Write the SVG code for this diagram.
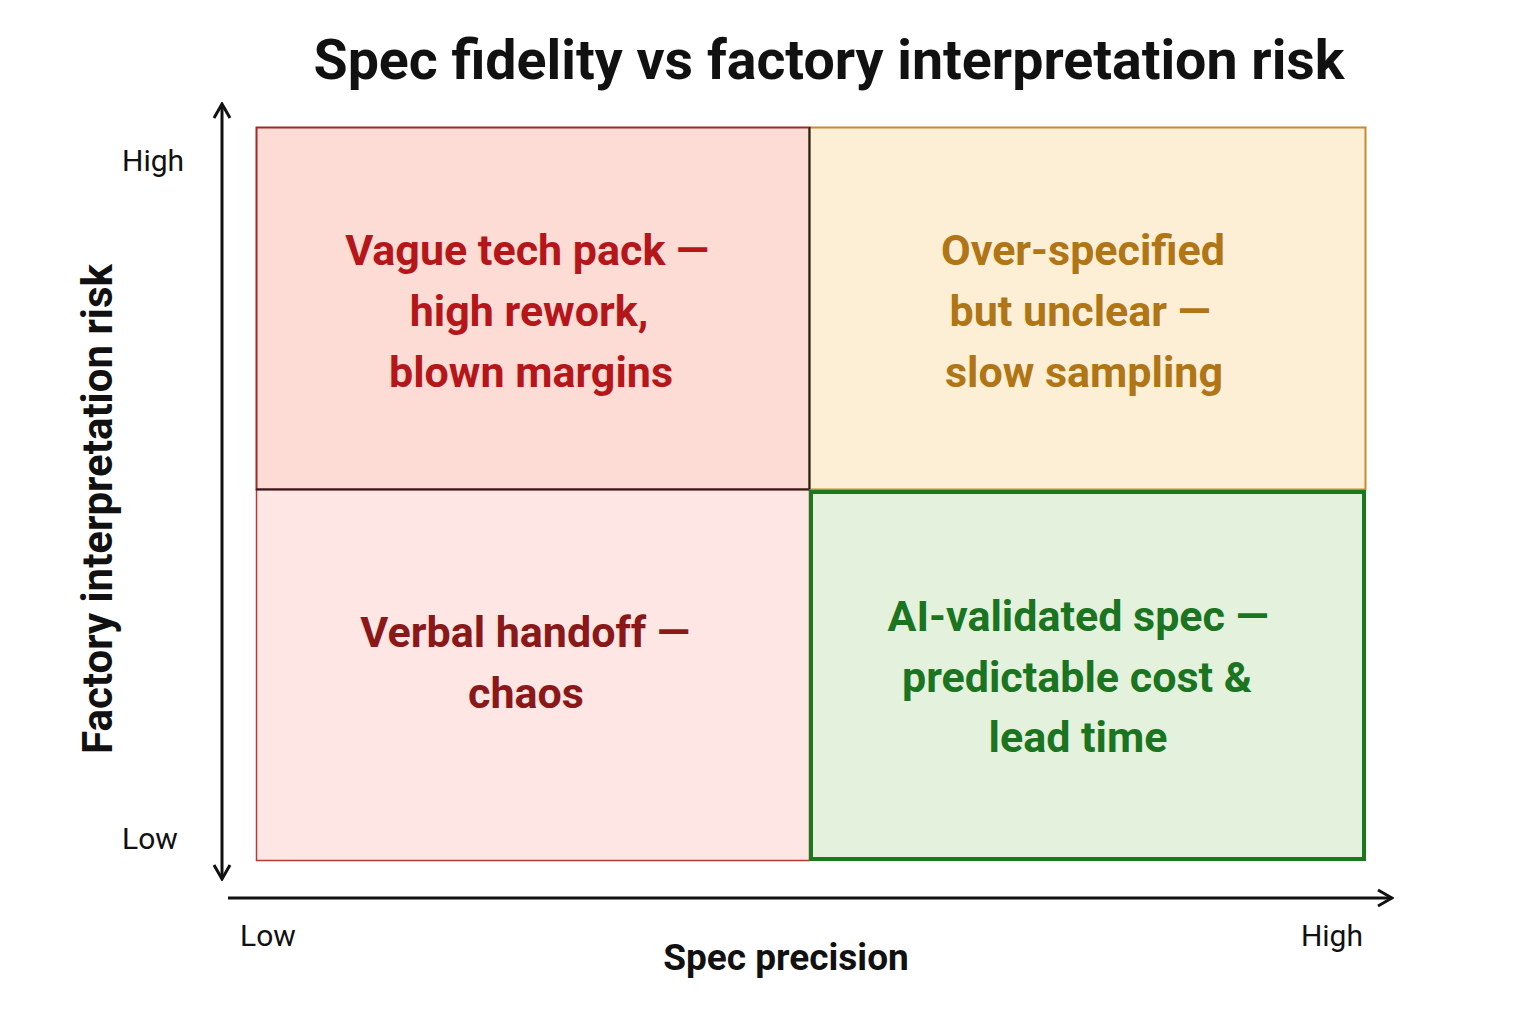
<svg xmlns="http://www.w3.org/2000/svg" width="1536" height="1024" viewBox="0 0 1536 1024">
<style>
.q{font-family:Roboto,"Liberation Sans",sans-serif;font-weight:bold;font-size:43px;text-anchor:middle}
.tick{font-family:Roboto,"Liberation Sans",sans-serif;font-size:30px;fill:#111}
.ax{font-family:Roboto,"Liberation Sans",sans-serif;font-weight:bold;font-size:37px;fill:#111;text-anchor:middle}
.axis{stroke:#111;stroke-width:3;fill:none}
</style>
<defs>
<marker id="arr" viewBox="0 0 20 20" refX="18" refY="10" markerWidth="20" markerHeight="20" markerUnits="userSpaceOnUse" orient="auto-start-reverse">
<path d="M4,2 L18,10 L4,18" fill="none" stroke="#111" stroke-width="3"/>
</marker>
</defs>
<rect width="1536" height="1024" fill="#ffffff"/>
<text x="829" y="79" font-family="Roboto,'Liberation Sans',sans-serif" font-weight="bold" font-size="55.5" text-anchor="middle" fill="#111">Spec fidelity vs factory interpretation risk</text>
<g id="q-top-left">
<rect x="256.5" y="127.5" width="553" height="362" fill="#fddcd6" stroke="#9e2a2a" stroke-width="2"/>
<text class="q" fill="#b5161a"><tspan x="527" y="265">Vague tech pack —</tspan><tspan x="529" y="326">high rework,</tspan><tspan x="531" y="387">blown margins</tspan></text>
</g>
<g id="q-top-right">
<rect x="809.5" y="127.5" width="556" height="362" fill="#fdefd6" stroke="#c8892f" stroke-width="2"/>
<text class="q" fill="#b07514"><tspan x="1083" y="265">Over-specified</tspan><tspan x="1080" y="326">but unclear —</tspan><tspan x="1084" y="387">slow sampling</tspan></text>
</g>
<g id="q-bottom-left">
<rect x="256.5" y="489.5" width="553" height="371" fill="#fde6e4" stroke="#b53a3a" stroke-width="1.5"/>
<text class="q" fill="#8a1818"><tspan x="525" y="647">Verbal handoff —</tspan><tspan x="526" y="708">chaos</tspan></text>
</g>
<line x1="256" y1="489.5" x2="809" y2="489.5" stroke="#222" stroke-width="2"/>
<line x1="809.5" y1="127" x2="809.5" y2="489" stroke="#222" stroke-width="2"/>
<g id="q-bottom-right">
<rect x="811" y="492" width="553" height="367" fill="#e3f1dd" stroke="#1a781f" stroke-width="4"/>
<text class="q" fill="#1b741f"><tspan x="1078" y="631">AI-validated spec —</tspan><tspan x="1077" y="692">predictable cost &amp;</tspan><tspan x="1078" y="752">lead time</tspan></text>
</g>
<g id="axes">
<line class="axis" x1="222" y1="104" x2="222" y2="879" marker-start="url(#arr)" marker-end="url(#arr)"/>
<line class="axis" x1="228" y1="898" x2="1392" y2="898" marker-end="url(#arr)"/>
</g>
<text class="tick" x="122" y="171">High</text>
<text class="tick" x="122" y="849">Low</text>
<text class="tick" x="240" y="946">Low</text>
<text class="tick" x="1363" y="946" text-anchor="end">High</text>
<text class="ax" x="786" y="970">Spec precision</text>
<text class="ax" style="font-size:42px" transform="translate(112,509) rotate(-90)" x="0" y="0">Factory interpretation risk</text>
</svg>
